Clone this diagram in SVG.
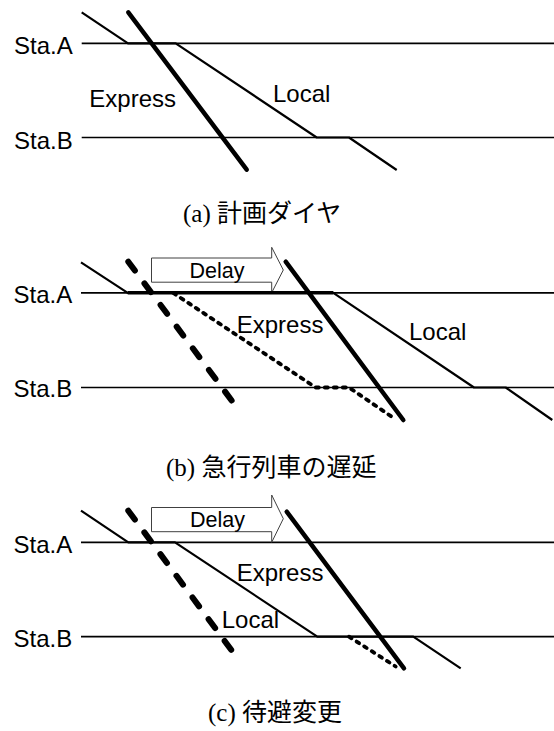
<svg xmlns="http://www.w3.org/2000/svg" width="554" height="731" viewBox="0 0 554 731">
<style>
.sta{stroke:#000;stroke-width:1.7;fill:none}
.loc{stroke:#000;stroke-width:2.2;fill:none;stroke-linejoin:round}
.exp{stroke:#000;stroke-width:4.5;fill:none;stroke-linecap:round}
.dash{stroke:#000;stroke-width:6;fill:none;stroke-linecap:round;stroke-dasharray:11 16}
.dot{stroke:#000;stroke-width:3.8;fill:none;stroke-linecap:round;stroke-linejoin:round;stroke-dasharray:3 6}
.arr{fill:#fff;stroke:#404040;stroke-width:1}
.lbl{font-family:"Liberation Sans",Arial,sans-serif;font-size:24px;fill:#000}
.dl{font-family:"Liberation Sans",Arial,sans-serif;font-size:21.5px;fill:#000}
.cap{font-family:"Liberation Serif","Noto Sans CJK JP",serif;font-size:25px;fill:#000}
.jp{font-family:"Noto Sans CJK JP",sans-serif}
</style>
<rect width="554" height="731" fill="#fff"/>

<g id="panel-a">
  <g id="a-stations">
    <text class="lbl" x="14" y="54.3">Sta.A</text>
    <text class="lbl" x="14" y="149">Sta.B</text>
    <line class="sta" x1="81.7" y1="43.3" x2="554" y2="43.3"/>
    <line class="sta" x1="81.7" y1="137.5" x2="554" y2="137.5"/>
  </g>
  <g id="a-trains">
    <path id="a-local" class="loc" d="M81.7,12.3 L128,43.3 L175.7,43.3 L316.7,137.5 L349,137.5 L396.7,170"/>
    <path id="a-express" class="exp" d="M128.3,12.3 L246.7,169.7"/>
  </g>
  <text class="lbl" x="89.3" y="106.7">Express</text>
  <text class="lbl" x="273" y="101.7">Local</text>
  <text class="cap" x="183" y="222">(a) <tspan class="jp">計画ダイヤ</tspan></text>
</g>

<g id="panel-b">
  <g id="b-stations">
    <text class="lbl" x="13.5" y="303.3">Sta.A</text>
    <text class="lbl" x="13.5" y="397.3">Sta.B</text>
    <line class="sta" x1="81" y1="292.8" x2="554" y2="292.8"/>
    <line class="sta" x1="81" y1="387.5" x2="554" y2="387.5"/>
  </g>
  <g id="b-delay">
    <polygon class="arr" points="151.5,258 271.7,258 271.7,247.3 283.3,270 271.7,292.7 271.7,282.2 151.5,282.2"/>
    <text class="dl" x="189.5" y="277.5">Delay</text>
  </g>
  <g id="b-trains">
    <path id="b-express-plan" class="dash" d="M128.3,261.7 L240,411.7"/>
    <path id="b-local" class="loc" d="M81,262.3 L127.7,292.8 L333.3,292.8 L474,387.5 L505.7,387.5 L552.3,420"/>
    <path id="b-local-wait" d="M127.7,292.8 L333.3,292.8" stroke="#000" stroke-width="3.4" fill="none"/>
    <path id="b-local-plan" class="dot" d="M173.3,293 L315.7,387.5 L349,387.5 L394,418.3"/>
    <path id="b-express" class="exp" d="M285.7,261.7 L403.3,420"/>
  </g>
  <text class="lbl" x="236.7" y="332.5">Express</text>
  <text class="lbl" x="409" y="340">Local</text>
  <text class="cap" x="166" y="476">(b) <tspan class="jp">急行列車の遅延</tspan></text>
</g>

<g id="panel-c">
  <g id="c-stations">
    <text class="lbl" x="13.5" y="553.3">Sta.A</text>
    <text class="lbl" x="13.5" y="647.3">Sta.B</text>
    <line class="sta" x1="81" y1="542.3" x2="554" y2="542.3"/>
    <line class="sta" x1="81" y1="636.7" x2="554" y2="636.7"/>
  </g>
  <g id="c-delay">
    <polygon class="arr" points="151.5,507.5 271.7,507.5 271.7,495 283.3,518.7 271.7,542.3 271.7,531.7 151.5,531.7"/>
    <text class="dl" x="190" y="526.7">Delay</text>
  </g>
  <g id="c-trains">
    <path id="c-express-plan" class="dash" d="M128.3,510.7 L240,661.7"/>
    <path id="c-local" class="loc" d="M81,510.7 L128.3,542.3 L175,542.3 L317.3,636.7 L413.3,636.7 L460.7,668.3"/>
    <path id="c-local-plan" class="dot" d="M349,636.7 L395.7,666.5"/>
    <path id="c-express" class="exp" d="M286.7,511.7 L404,668.3"/>
  </g>
  <text class="lbl" x="236.7" y="580.7">Express</text>
  <text class="lbl" x="221.7" y="628.3">Local</text>
  <text class="cap" x="208" y="721">(c) <tspan class="jp">待避変更</tspan></text>
</g>
</svg>
